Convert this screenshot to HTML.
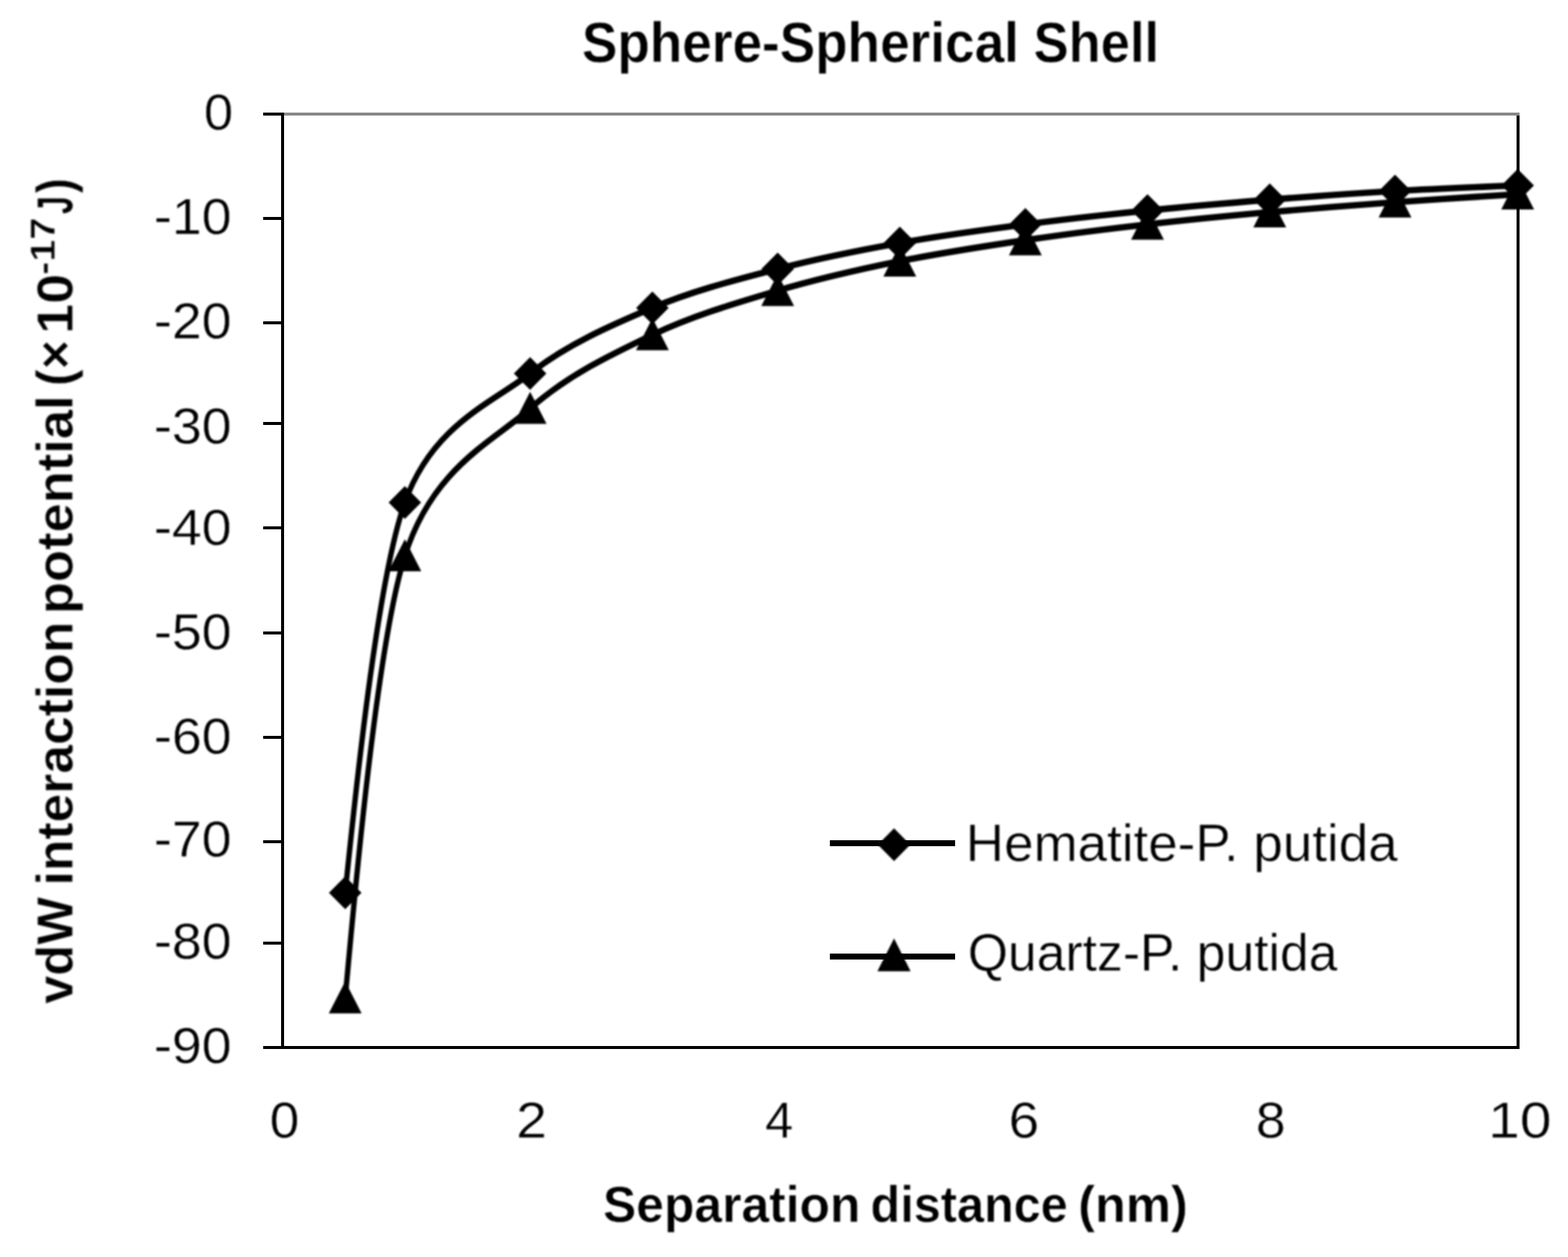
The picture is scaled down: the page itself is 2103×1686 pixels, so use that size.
<!DOCTYPE html>
<html lang="en">
<head>
<meta charset="utf-8">
<title>Sphere-Spherical Shell</title>
<style>
html,body{margin:0;padding:0;background:#fff;}
body{width:2103px;height:1686px;overflow:hidden;}
svg{display:block;}
svg text{font-family:"Liberation Sans", sans-serif;fill:#000;white-space:pre;stroke:#fff;stroke-width:0.5px;stroke-linejoin:round;}
svg text.b{font-weight:bold;stroke-width:0.6px;}
</style>
</head>
<body>
<svg width="2103" height="1686" viewBox="0 0 2103 1686" role="img" aria-label="Sphere-Spherical Shell: vdW interaction potential versus separation distance">
<defs>
<filter id="soft" x="0" y="0" width="2103" height="1686" filterUnits="userSpaceOnUse" color-interpolation-filters="sRGB">
<feGaussianBlur stdDeviation="1.0"/>
</filter>
</defs>
<rect x="0" y="0" width="2103" height="1686" fill="#fff"/>
<g shape-rendering="crispEdges">
<rect x="379.0" y="150.6" width="1658.7" height="4.0" fill="#888"/>
<rect x="2033.7" y="154.6" width="4.0" height="1252.4" fill="#000"/>
<rect x="377.0" y="150.6" width="4.0" height="1256.4" fill="#000"/>
<rect x="353" y="1403.0" width="1684.7" height="4.0" fill="#000"/>
<rect x="353" y="150.7" width="26" height="4.0" fill="#000"/>
<rect x="353" y="290.7" width="26" height="4.0" fill="#000"/>
<rect x="353" y="430.7" width="26" height="4.0" fill="#000"/>
<rect x="353" y="566.4" width="26" height="4.0" fill="#000"/>
<rect x="353" y="706.2" width="26" height="4.0" fill="#000"/>
<rect x="353" y="846.5" width="26" height="4.0" fill="#000"/>
<rect x="353" y="986.9" width="26" height="4.0" fill="#000"/>
<rect x="353" y="1127.2" width="26" height="4.0" fill="#000"/>
<rect x="353" y="1263.0" width="26" height="4.0" fill="#000"/>
<rect x="353" y="1403.0" width="26" height="4.0" fill="#000"/>
<rect x="1113.0" y="1126.9" width="168.3" height="8.2" fill="#000"/>
<rect x="1113.0" y="1278.9" width="168.3" height="8.2" fill="#000"/>
</g>
<g filter="url(#soft)">
<text x="273.43" y="173.55" font-size="68.50" font-weight="normal" textLength="39.22" lengthAdjust="spacingAndGlyphs" >0</text>
<text x="206.51" y="314.35" font-size="68.50" font-weight="normal" textLength="104.15" lengthAdjust="spacingAndGlyphs" >-10</text>
<text x="206.51" y="454.35" font-size="68.50" font-weight="normal" textLength="104.15" lengthAdjust="spacingAndGlyphs" >-20</text>
<text x="206.51" y="594.55" font-size="68.50" font-weight="normal" textLength="104.15" lengthAdjust="spacingAndGlyphs" >-30</text>
<text x="206.51" y="730.85" font-size="68.50" font-weight="normal" textLength="104.15" lengthAdjust="spacingAndGlyphs" >-40</text>
<text x="206.51" y="871.15" font-size="68.50" font-weight="normal" textLength="104.15" lengthAdjust="spacingAndGlyphs" >-50</text>
<text x="206.51" y="1010.55" font-size="68.50" font-weight="normal" textLength="104.15" lengthAdjust="spacingAndGlyphs" >-60</text>
<text x="206.51" y="1149.35" font-size="68.50" font-weight="normal" textLength="104.15" lengthAdjust="spacingAndGlyphs" >-70</text>
<text x="206.51" y="1286.45" font-size="68.50" font-weight="normal" textLength="104.15" lengthAdjust="spacingAndGlyphs" >-80</text>
<text x="206.51" y="1425.95" font-size="68.50" font-weight="normal" textLength="104.15" lengthAdjust="spacingAndGlyphs" >-90</text>
<text x="361.80" y="1526.25" font-size="68.50" font-weight="normal" textLength="39.69" lengthAdjust="spacingAndGlyphs" >0</text>
<text x="692.32" y="1526.25" font-size="68.50" font-weight="normal" textLength="41.44" lengthAdjust="spacingAndGlyphs" >2</text>
<text x="1026.36" y="1526.25" font-size="68.50" font-weight="normal" textLength="37.71" lengthAdjust="spacingAndGlyphs" >4</text>
<text x="1352.87" y="1526.25" font-size="68.50" font-weight="normal" textLength="40.99" lengthAdjust="spacingAndGlyphs" >6</text>
<text x="1684.30" y="1526.25" font-size="68.50" font-weight="normal" textLength="40.12" lengthAdjust="spacingAndGlyphs" >8</text>
<text x="1996.04" y="1526.25" font-size="68.50" font-weight="normal" textLength="84.76" lengthAdjust="spacingAndGlyphs" >10</text>
<text class="b" font-size="76.50"><tspan x="780.56" y="82.60" textLength="586.04" lengthAdjust="spacingAndGlyphs">Sphere-Spherical</tspan><tspan> </tspan><tspan x="1386.29" y="82.60" textLength="168.32" lengthAdjust="spacingAndGlyphs">Shell</tspan></text>
<text class="b" font-size="68.20"><tspan x="808.70" y="1638.80" textLength="345.31" lengthAdjust="spacingAndGlyphs">Separation</tspan><tspan> </tspan><tspan x="1167.59" y="1638.80" textLength="264.51" lengthAdjust="spacingAndGlyphs">distance</tspan><tspan> </tspan><tspan x="1445.90" y="1638.80" textLength="147.27" lengthAdjust="spacingAndGlyphs">(nm)</tspan></text>
<text class="b" transform="translate(97.3,1345.7) rotate(-90)" font-size="68.60"><tspan x="-0.64" y="0.30" textLength="143.20" lengthAdjust="spacingAndGlyphs">vdW</tspan><tspan> </tspan><tspan x="157.95" y="0.30" textLength="354.03" lengthAdjust="spacingAndGlyphs">interaction</tspan><tspan> </tspan><tspan x="522.13" y="0.30" textLength="293.21" lengthAdjust="spacingAndGlyphs">potential</tspan><tspan> </tspan><tspan x="827.72" y="0.30" textLength="62.02" lengthAdjust="spacingAndGlyphs">(×</tspan><tspan> </tspan><tspan x="898.12" y="0.30" textLength="80.13" lengthAdjust="spacingAndGlyphs">10</tspan><tspan x="977.07" y="-23.70" textLength="76.84" lengthAdjust="spacingAndGlyphs" font-size="46.30">-17</tspan><tspan> </tspan><tspan x="1058.54" y="0.30" textLength="24.35" lengthAdjust="spacingAndGlyphs">J</tspan><tspan x="1086.49" y="0.30" textLength="20.34" lengthAdjust="spacingAndGlyphs">)</tspan></text>
<g transform="scale(1,1.1944)" fill="none" stroke="#000" stroke-width="7.2" stroke-linejoin="round">
<path d="M463.0,1002.56 C475.8,897.29 505.8,651.68 543.0,564.20 C580.2,476.72 661.2,452.13 711.0,419.36 C760.8,386.58 819.7,365.25 875.0,345.68 C930.3,326.12 987.7,314.12 1043.0,301.98 C1098.3,289.84 1151.4,281.17 1206.8,272.85 C1262.2,264.52 1319.8,258.11 1375.2,252.04 C1430.6,245.97 1484.4,241.05 1539.0,236.43 C1593.6,231.80 1647.7,227.93 1703.0,224.29 C1758.3,220.65 1815.6,217.24 1871.0,214.58 C1926.4,211.91 2002.8,209.39 2035.5,208.31"/>
<path d="M463.0,1120.76 C475.8,1001.61 505.8,723.59 543.0,624.30 C580.2,525.01 661.2,496.05 711.0,458.81 C760.8,421.58 819.7,398.14 875.0,376.07 C930.3,354.01 987.7,340.22 1043.0,326.43 C1098.3,312.63 1151.4,302.78 1206.8,293.33 C1262.2,283.87 1319.8,276.58 1375.2,269.69 C1430.6,262.79 1484.4,257.21 1539.0,251.96 C1593.6,246.70 1647.7,242.30 1703.0,238.17 C1758.3,234.03 1815.6,230.48 1871.0,227.13 C1926.4,223.79 2002.8,219.81 2035.5,218.11"/>
</g>
<polygon points="441.2,1197.5 463.0,1175.5 484.8,1197.5 463.0,1219.5" fill="#000"/>
<polygon points="521.2,673.9 543.0,651.9 564.8,673.9 543.0,695.9" fill="#000"/>
<polygon points="689.2,500.9 711.0,478.9 732.8,500.9 711.0,522.9" fill="#000"/>
<polygon points="853.2,412.9 875.0,390.9 896.8,412.9 875.0,434.9" fill="#000"/>
<polygon points="1021.2,360.7 1043.0,338.7 1064.8,360.7 1043.0,382.7" fill="#000"/>
<polygon points="1185.0,325.9 1206.8,303.9 1228.6,325.9 1206.8,347.9" fill="#000"/>
<polygon points="1353.4,301.0 1375.2,279.0 1397.0,301.0 1375.2,323.0" fill="#000"/>
<polygon points="1517.2,282.4 1539.0,260.4 1560.8,282.4 1539.0,304.4" fill="#000"/>
<polygon points="1681.2,267.9 1703.0,245.9 1724.8,267.9 1703.0,289.9" fill="#000"/>
<polygon points="1849.2,256.3 1871.0,234.3 1892.8,256.3 1871.0,278.3" fill="#000"/>
<polygon points="2013.7,248.8 2035.5,226.8 2057.3,248.8 2035.5,270.8" fill="#000"/>
<polygon points="441.0,1359.2 463.0,1316.2 485.0,1359.2" fill="#000"/>
<polygon points="521.0,766.2 543.0,723.2 565.0,766.2" fill="#000"/>
<polygon points="689.0,568.5 711.0,525.5 733.0,568.5" fill="#000"/>
<polygon points="853.0,469.7 875.0,426.7 897.0,469.7" fill="#000"/>
<polygon points="1021.0,410.4 1043.0,367.4 1065.0,410.4" fill="#000"/>
<polygon points="1184.8,370.9 1206.8,327.9 1228.8,370.9" fill="#000"/>
<polygon points="1353.2,342.6 1375.2,299.6 1397.2,342.6" fill="#000"/>
<polygon points="1517.0,321.4 1539.0,278.4 1561.0,321.4" fill="#000"/>
<polygon points="1681.0,305.0 1703.0,262.0 1725.0,305.0" fill="#000"/>
<polygon points="1849.0,291.8 1871.0,248.8 1893.0,291.8" fill="#000"/>
<polygon points="2013.5,281.0 2035.5,238.0 2057.5,281.0" fill="#000"/>
<polygon points="1177.4,1132.9 1199.1,1110.9 1220.8,1132.9 1199.1,1154.9" fill="#000"/>
<polygon points="1176.8,1302.7 1199.1,1258.7 1221.3,1302.7" fill="#000"/>
<text x="1295.37" y="1154.95" font-size="69.80" font-weight="normal" textLength="579.09" lengthAdjust="spacingAndGlyphs" >Hematite-P. putida</text>
<text x="1297.93" y="1302.25" font-size="69.80" font-weight="normal" textLength="495.98" lengthAdjust="spacingAndGlyphs" >Quartz-P. putida</text>
</g>
</svg>
</body>
</html>
